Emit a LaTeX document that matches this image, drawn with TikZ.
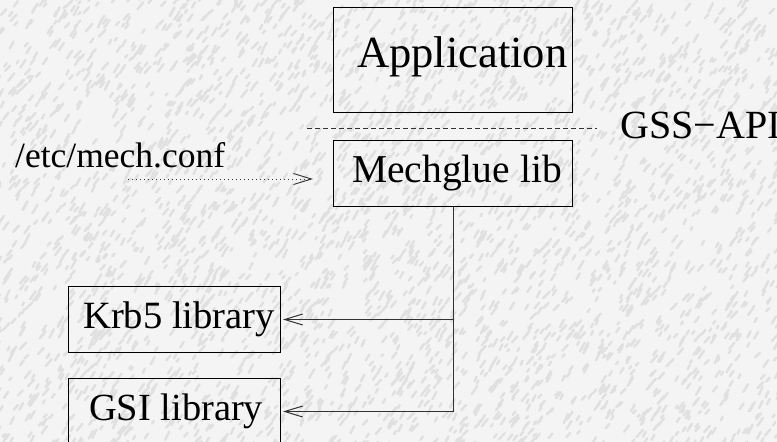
\documentclass[tikz,border=0pt]{standalone}
\usepackage{fontspec}
\setmainfont{Liberation Serif}
\usetikzlibrary{arrows.meta}
\definecolor{bgc}{RGB}{244,244,244}
\definecolor{streak}{RGB}{224,224,224}
\definecolor{linec}{RGB}{50,50,50}
\tikzset{
  box/.style={draw=black, line width=1pt, inner sep=0pt, anchor=north west},
  lbl/.style={anchor=base west, inner sep=0pt, text=black},
  arr/.style={draw=linec, line width=1pt, -{Straight Barb[length=18pt,width=11pt,line width=1pt]}},
  dotarr/.style={draw=linec, line width=0.9pt, dash pattern=on 1pt off 3pt, -{Straight Barb[length=18pt,width=11pt,line width=0.9pt]}},
  sep/.style={draw=linec, line width=1pt, dash pattern=on 5pt off 3pt},
  grain/.style={draw=streak, line width=2.4pt, line cap=round}
}
\begin{document}
\begin{tikzpicture}[x=1pt,y=1pt]
\useasboundingbox (0,0) rectangle (777,-442);
\clip (0,0) rectangle (777,-442);
\fill[bgc] (0,0) rectangle (777,-442);
% texture
\pgfmathsetseed{7}
\foreach \i in {1,...,3600}{
  \pgfmathsetmacro{\px}{rnd*790-6}
  \pgfmathsetmacro{\py}{rnd*455-6}
  \pgfmathsetmacro{\pl}{rnd*7+3}
  \pgfmathsetmacro{\pa}{45+rnd*20}
  \draw[grain] (\px,-\py) -- ++(\pa:\pl);
}
% boxes
\node[box, minimum width=239pt, minimum height=105pt] (app) at (333,-7) {};
\node[box, minimum width=239pt, minimum height=66pt] (mech) at (333,-140) {};
\node[box, minimum width=212pt, minimum height=66pt] (krb) at (68,-286) {};
\node[box, minimum width=212pt, minimum height=66pt] (gsi) at (68,-378) {};
% labels
\node[lbl] (applbl) at (357,-67) {\fontsize{44.5}{44}\selectfont Application};
\node[lbl] (mechlbl) at (352,-182) {\fontsize{39.5}{40}\selectfont Mechglue lib};
\node[lbl] (krblbl) at (83,-328) {\fontsize{38.6}{40}\selectfont Krb5 library};
\node[lbl] (gsilbl) at (89,-420) {\fontsize{38.4}{40}\selectfont GSI library};
\node[lbl] (conf) at (15,-167) {\fontsize{35.5}{36}\selectfont /etc/mech.conf};
\node[lbl] (gss) at (620,-138) {\fontsize{40}{40}\selectfont GSS−API};
% separator
\coordinate (sepL) at (307,-128);
\coordinate (sepR) at (597,-128);
\draw[sep] (sepL) -- (sepR);
% config arrow
\coordinate (cfgA) at (128,-179);
\coordinate (cfgB) at (313,-179);
\draw[dotarr] (cfgA) -- (cfgB);
% connectors
\coordinate (krbend) at ([xshift=2pt]krb.east);
\coordinate (gsiend) at ([xshift=2pt]gsi.east);
\draw[arr] (mech.south) |- (gsiend);
\draw[arr] (mech.south |- krbend) -- (krbend);
\end{tikzpicture}
\end{document}
